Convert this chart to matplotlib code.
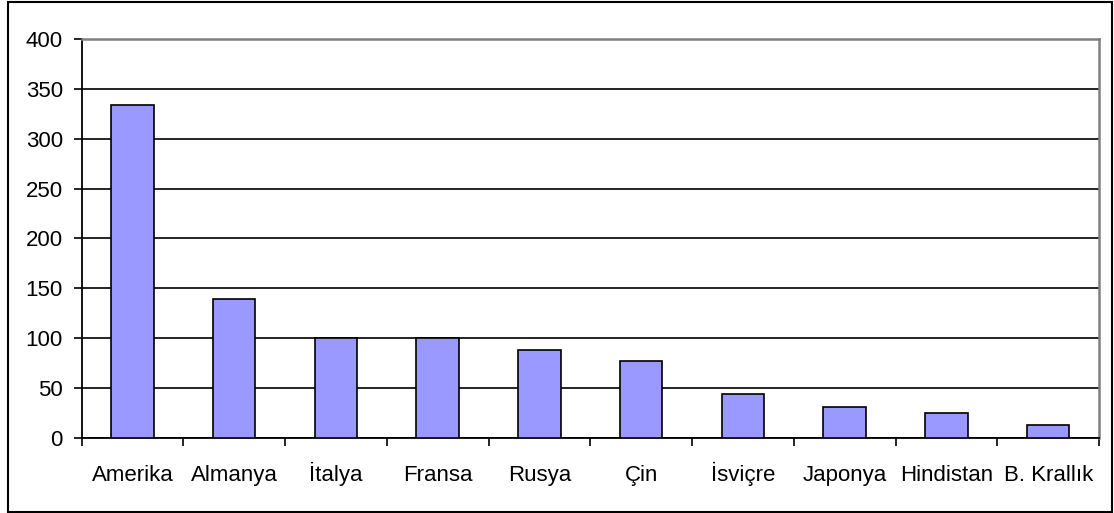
import numpy as np
import matplotlib
import matplotlib.pyplot as plt
from matplotlib.patches import Rectangle

matplotlib.use("Agg")

countries = ["Amerika", "Almanya", "İtalya", "Fransa", "Rusya",
             "Çin", "İsviçre", "Japonya", "Hindistan", "B. Krallık"]
values = [334, 139, 100, 100, 88, 77, 44, 31, 25, 13]
y_ticks = [0, 50, 100, 150, 200, 250, 300, 350, 400]

plt.rcParams["font.family"] = ["Liberation Sans", "DejaVu Sans"]

fig = plt.figure(figsize=(11.14, 5.13), dpi=100)
ax = fig.add_axes([81.5 / 1114, 1 - 437.7 / 513, (1099 - 81.5) / 1114, (437.7 - 39) / 513])

x = np.arange(len(countries))
ax.bar(x, values, width=0.42, color="#9999ff", edgecolor="black",
       linewidth=1.2, zorder=3)

ax.set_xlim(-0.5, len(countries) - 0.5)
ax.set_ylim(0, 400)
ax.set_yticks(y_ticks)
ax.yaxis.grid(True, color="black", linewidth=1.2, zorder=1)
ax.set_axisbelow(True)

# category labels placed on a common baseline (dotted capitals stay aligned)
ax.set_xticks(np.arange(-0.5, len(countries)))
ax.set_xticklabels([])
ax.tick_params(axis="x", length=6, width=1.2, direction="out")
for xi, name in zip(x, countries):
    ax.annotate(name, xy=(xi, 0), xycoords=("data", "axes fraction"),
                xytext=(0, -43), textcoords="offset pixels",
                ha="center", va="baseline", fontsize=16)

ax.tick_params(axis="y", length=5.5, width=1.2, pad=8, labelsize=16)

for side in ("left", "bottom"):
    ax.spines[side].set_color("black")
    ax.spines[side].set_linewidth(1.3)
for side in ("top", "right"):
    ax.spines[side].set_color("#808080")
    ax.spines[side].set_linewidth(1.8)

fig.patches.append(Rectangle((7.5 / 1114, 1.5 / 513), 1104 / 1114, 509.5 / 513,
                             transform=fig.transFigure, fill=False,
                             edgecolor="black", linewidth=1.5))

fig.savefig("out.png", dpi=100)
